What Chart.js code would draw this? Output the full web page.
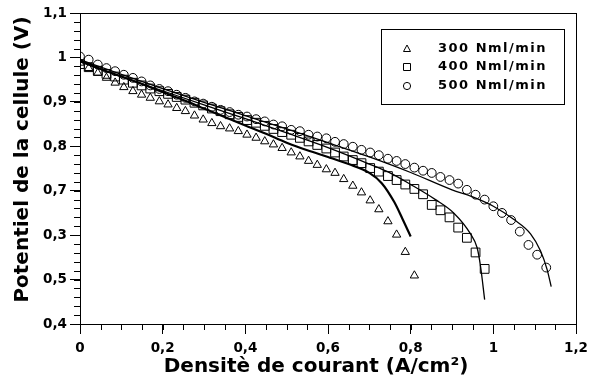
<!DOCTYPE html>
<html>
<head>
<meta charset="utf-8">
<script src="https://cdn.jsdelivr.net/npm/chart.js@4"></script>
<style>
    body { margin: 0; background: #fff; }
</style>
</head>
<body>
<canvas id="graphique" width="605" height="383"></canvas>
<script>
// densité de courant (A/cm²) des points mesurés
const densite = [0, 0.021, 0.043, 0.064, 0.085, 0.106, 0.128, 0.149, 0.170, 0.192,
    0.213, 0.234, 0.255, 0.277, 0.298, 0.319, 0.340, 0.362, 0.383, 0.404,
    0.426, 0.447, 0.468, 0.489, 0.511, 0.532, 0.553, 0.574, 0.596, 0.617,
    0.638, 0.660, 0.681, 0.702, 0.723, 0.745, 0.766, 0.787, 0.809, 0.830,
    0.851, 0.872, 0.894, 0.915, 0.936, 0.957, 0.979, 1.000, 1.021, 1.043,
    1.064, 1.085, 1.106, 1.128];

// potentiel mesuré (V)
const mesure300 = [0.988, 0.976, 0.965, 0.954, 0.943, 0.933, 0.924, 0.916, 0.909, 0.901,
    0.894, 0.886, 0.879, 0.869, 0.860, 0.852, 0.845, 0.840, 0.834, 0.826,
    0.819, 0.811, 0.804, 0.796, 0.786, 0.777, 0.767, 0.758, 0.748, 0.740,
    0.726, 0.711, 0.696, 0.678, 0.658, 0.631, 0.601, 0.562, 0.509];
const mesure400 = [0.985, 0.978, 0.970, 0.963, 0.957, 0.950, 0.943, 0.937, 0.930, 0.924,
    0.918, 0.911, 0.905, 0.898, 0.892, 0.885, 0.879, 0.872, 0.866, 0.859,
    0.853, 0.846, 0.839, 0.832, 0.826, 0.819, 0.811, 0.803, 0.795, 0.786,
    0.777, 0.769, 0.762, 0.751, 0.743, 0.733, 0.724, 0.714, 0.704, 0.692,
    0.668, 0.656, 0.640, 0.617, 0.594, 0.561, 0.524];
const mesure500 = [1.002, 0.995, 0.984, 0.976, 0.969, 0.961, 0.954, 0.946, 0.937, 0.929,
    0.924, 0.916, 0.909, 0.901, 0.896, 0.889, 0.882, 0.877, 0.871, 0.867,
    0.861, 0.856, 0.849, 0.845, 0.837, 0.834, 0.826, 0.822, 0.818, 0.810,
    0.805, 0.799, 0.792, 0.786, 0.780, 0.772, 0.767, 0.760, 0.752, 0.745,
    0.740, 0.731, 0.724, 0.716, 0.702, 0.691, 0.680, 0.665, 0.650, 0.634,
    0.608, 0.578, 0.556, 0.527];

// courbes du modèle
const modele300X = [0, 0.05, 0.1, 0.15, 0.2, 0.25, 0.3, 0.35, 0.4, 0.45, 0.5, 0.55, 0.6, 0.65, 0.7, 0.73, 0.76, 0.78, 0.8];
const modele300Y = [0.993, 0.974, 0.957, 0.940, 0.922, 0.904, 0.885, 0.866, 0.847, 0.828, 0.808, 0.791, 0.776, 0.760, 0.740, 0.717, 0.675, 0.637, 0.597];
const modele400X = [0, 0.1, 0.2, 0.3, 0.4, 0.5, 0.6, 0.7, 0.75, 0.8, 0.86, 0.904, 0.944, 0.961, 0.969, 0.979];
const modele400Y = [0.990, 0.957, 0.925, 0.893, 0.862, 0.830, 0.797, 0.760, 0.740, 0.714, 0.680, 0.650, 0.604, 0.571, 0.530, 0.455];
const modele500X = [0, 0.1, 0.2, 0.3, 0.4, 0.5, 0.6, 0.7, 0.8, 0.9, 0.95, 1.0, 1.05, 1.09, 1.114, 1.13, 1.14];
const modele500Y = [0.995, 0.962, 0.930, 0.899, 0.869, 0.839, 0.808, 0.776, 0.741, 0.702, 0.686, 0.665, 0.635, 0.603, 0.565, 0.523, 0.484];

const nomsSeries = ["300 Nml/min", "400 Nml/min", "500 Nml/min"];
const stylesPoints = ["triangle", "rect", "circle"];
const etiquettesY = ["0,4", "0,5", "0,3", "0,7", "0,8", "0,9", "1", "1,1"];
const titreX = "Densitè de courant (A/cm²)";
const titreY = "Potentiel de la cellule (V)";

const noir = "#000";
const police = "'DejaVu Sans', sans-serif";
const rayons = [4.8, 6.2, 4.4];

function points(xs, ys) {
    return ys.map((y, i) => ({ x: xs[i], y: y }));
}

function serieMesuree(i, valeurs) {
    return {
        label: nomsSeries[i],
        data: points(densite, valeurs),
        showLine: false,
        pointStyle: stylesPoints[i],
        pointRadius: rayons[i],
        pointBorderWidth: 1,
        borderColor: noir,
        backgroundColor: "rgba(0,0,0,0)"
    };
}

function serieModele(xs, ys, epaisseur) {
    return {
        label: "",
        data: points(xs, ys),
        showLine: true,
        pointRadius: 0,
        borderWidth: epaisseur,
        borderColor: noir,
        tension: 0.3,
        cubicInterpolationMode: "monotone"
    };
}

// cadre, petites graduations, titres des axes et légende encadrée
const decor = {
    id: "decor",
    afterDraw(chart) {
        const { ctx, chartArea: a, scales: { x, y } } = chart;
        ctx.save();
        ctx.strokeStyle = noir;
        ctx.lineWidth = 1;
        ctx.strokeRect(Math.round(a.left) + 0.5, Math.round(a.top) + 0.5,
            Math.round(a.right - a.left), Math.round(a.bottom - a.top));

        ctx.beginPath();
        for (let i = 0; i <= 24; i++) {
            const px = Math.round(x.getPixelForValue(i * 0.05)) + 0.5;
            ctx.moveTo(px, a.bottom);
            ctx.lineTo(px, a.bottom + 6);
        }
        for (let i = 0; i <= 35; i++) {
            const py = Math.round(y.getPixelForValue(0.4 + i * 0.02)) + 0.5;
            ctx.moveTo(a.left, py);
            ctx.lineTo(a.left - 6, py);
        }
        ctx.stroke();

        // titres des axes
        ctx.fillStyle = noir;
        ctx.font = "bold 20px " + police;
        ctx.textAlign = "center";
        ctx.textBaseline = "middle";
        ctx.fillText(titreX, (a.left + a.right) / 2 - 12, 367);
        ctx.save();
        ctx.translate(23, (a.top + a.bottom) / 2 - 9);
        ctx.rotate(-Math.PI / 2);
        ctx.fillText(titreY, 0, 0);
        ctx.restore();

        // légende
        ctx.fillStyle = "#fff";
        ctx.fillRect(381.5, 29.5, 183, 75);
        ctx.strokeRect(381.5, 29.5, 183, 75);
        const lignes = [49, 67, 86];
        ctx.font = "bold 13px " + police;
        ctx.letterSpacing = "1.5px";
        ctx.textBaseline = "middle";
        ctx.textAlign = "left";
        lignes.forEach((ly, i) => {
            ctx.fillStyle = noir;
            ctx.fillText(nomsSeries[i], 438, ly);
            ctx.beginPath();
            if (stylesPoints[i] === "triangle") {
                ctx.moveTo(407, ly - 4);
                ctx.lineTo(410.5, ly + 2.5);
                ctx.lineTo(403.5, ly + 2.5);
                ctx.closePath();
            } else if (stylesPoints[i] === "rect") {
                ctx.rect(403.5, ly - 3.5, 7, 7);
            } else {
                ctx.arc(407, ly, 3.6, 0, Math.PI * 2);
            }
            ctx.stroke();
        });
        ctx.restore();
    }
};

const ctx = document.querySelector("#graphique");

new Chart(ctx, {
    type: "scatter",
    data: {
        datasets: [
            serieModele(modele300X, modele300Y, 2.2),
            serieModele(modele400X, modele400Y, 1.3),
            serieModele(modele500X, modele500Y, 1.3),
            serieMesuree(0, mesure300),
            serieMesuree(1, mesure400),
            serieMesuree(2, mesure500)
        ]
    },
    options: {
        responsive: false,
        animation: false,
        layout: { padding: { left: 0, top: 13, right: 29, bottom: 0 } },
        plugins: {
            legend: { display: false },
            tooltip: { enabled: false }
        },
        scales: {
            x: {
                type: "linear",
                min: 0,
                max: 1.2,
                afterFit: (scale) => { scale.height = 59; },
                border: { display: false },
                grid: { drawOnChartArea: false, drawTicks: true, tickLength: 10, color: noir },
                ticks: {
                    stepSize: 0.2,
                    color: noir,
                    padding: 6,
                    maxRotation: 0,
                    font: { family: police, size: 13.5, weight: "bold" },
                    callback: (v) => String(Math.round(v * 10) / 10).replace(".", ",")
                }
            },
            y: {
                type: "linear",
                min: 0.4,
                max: 1.1,
                afterFit: (scale) => { scale.width = 80; },
                border: { display: false },
                grid: { drawOnChartArea: false, drawTicks: true, tickLength: 10, color: noir },
                ticks: {
                    stepSize: 0.1,
                    color: noir,
                    padding: 3,
                    font: { family: police, size: 13.5, weight: "bold" },
                    callback: (v, i) => etiquettesY[i]
                }
            }
        }
    },
    plugins: [decor]
});
</script>
</body>
</html>
